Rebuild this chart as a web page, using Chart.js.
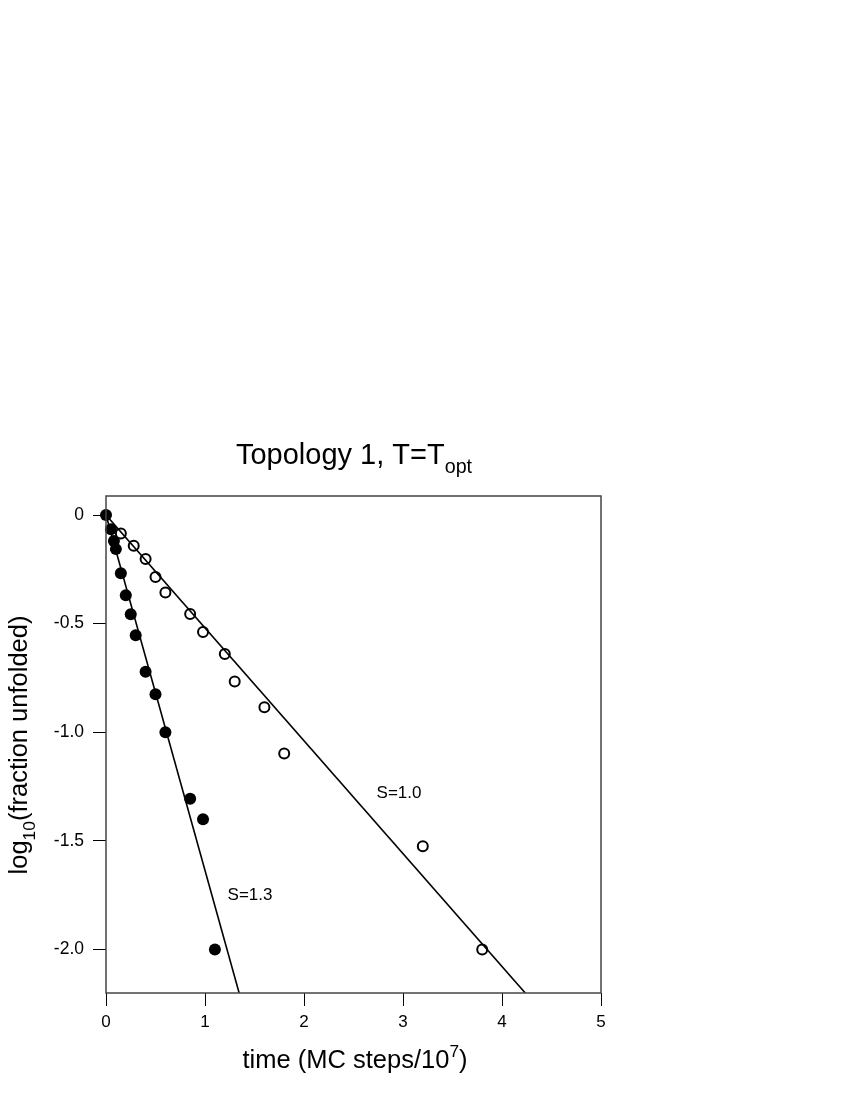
<!DOCTYPE html>
<html>
<head>
<meta charset="utf-8">
<script src="https://cdn.jsdelivr.net/npm/chart.js@4"></script>
<style>
  body { margin: 0; background: #fff; }
  canvas { display: block; }
</style>
</head>
<body>
<canvas id="myChart" width="850" height="1100"></canvas>
<script>
// data
var filledX = [0, 0.05, 0.08, 0.10, 0.15, 0.20, 0.25, 0.30, 0.40, 0.50, 0.60, 0.85, 0.98, 1.10];
var filledY = [0, -0.066, -0.12, -0.157, -0.268, -0.369, -0.457, -0.553, -0.721, -0.825, -1.0, -1.306, -1.40, -2.0];
var openX = [0.15, 0.28, 0.40, 0.50, 0.60, 0.85, 0.98, 1.20, 1.30, 1.60, 1.80, 3.20, 3.80];
var openY = [-0.085, -0.142, -0.203, -0.285, -0.357, -0.456, -0.538, -0.64, -0.766, -0.885, -1.098, -1.525, -2.0];
// fitted lines (S=1.0 and S=1.3)
var fitS10X = [0, 4.235];
var fitS10Y = [0, -2.2];
var fitS13X = [0, 1.345];
var fitS13Y = [0, -2.2];
var xTickValues = [0, 1, 2, 3, 4, 5];
var xTickLabels = ['0', '1', '2', '3', '4', '5'];
var yTickValues = [0, -0.5, -1.0, -1.5, -2.0];
var yTickLabels = ['0', '-0.5', '-1.0', '-1.5', '-2.0'];

var FONT = '"Liberation Sans", Arial, Helvetica, sans-serif';

function pts(xs, ys) {
  return xs.map(function (x, i) { return { x: x, y: ys[i] }; });
}

// draw text made of normal / sub / sup pieces
function richText(ctx, parts, size, x, y) {
  var total = 0;
  parts.forEach(function (p) {
    var s = p.mode ? size * 0.68 : size;
    ctx.font = s + 'px ' + FONT;
    p.w = ctx.measureText(p.t).width;
    total += p.w;
  });
  var cx = x - total / 2;
  parts.forEach(function (p) {
    var s = p.mode ? size * 0.68 : size;
    var dy = p.mode === 'sub' ? size * 0.3 : (p.mode === 'sup' ? -size * 0.45 : 0);
    ctx.font = s + 'px ' + FONT;
    ctx.fillText(p.t, cx, y + dy);
    cx += p.w;
  });
}

var extras = {
  id: 'extras',
  afterDraw: function (chart) {
    var ctx = chart.ctx;
    var a = chart.chartArea;
    var xs = chart.scales.x, ys = chart.scales.y;
    ctx.save();
    ctx.strokeStyle = '#444';
    ctx.lineWidth = 1.5;
    ctx.strokeRect(a.left, a.top, a.right - a.left, a.bottom - a.top);

    ctx.fillStyle = '#000';
    ctx.textAlign = 'left';
    ctx.textBaseline = 'alphabetic';
    richText(ctx, [{ t: 'Topology 1, T=T' }, { t: 'opt', mode: 'sub' }], 29, 354, 464);
    richText(ctx, [{ t: 'time (MC steps/10' }, { t: '7', mode: 'sup' }, { t: ')' }], 25.5, 355, 1068);

    ctx.save();
    ctx.translate(27, 745);
    ctx.rotate(-Math.PI / 2);
    richText(ctx, [{ t: 'log' }, { t: '10', mode: 'sub' }, { t: '(fraction unfolded)' }], 25.5, 0, 0);
    ctx.restore();

    ctx.font = '17px ' + FONT;
    ctx.textAlign = 'center';
    ctx.textBaseline = 'middle';
    ctx.fillText('S=1.0', xs.getPixelForValue(2.96), ys.getPixelForValue(-1.28));
    ctx.fillText('S=1.3', xs.getPixelForValue(1.455), ys.getPixelForValue(-1.75));
    ctx.restore();
  }
};

var ctx = document.getElementById('myChart').getContext('2d');
var myChart = new Chart(ctx, {
  type: 'scatter',
  data: {
    datasets: [{
      label: 'S=1.0 fit',
      data: pts(fitS10X, fitS10Y),
      showLine: true,
      borderColor: '#000',
      borderWidth: 1.6,
      pointRadius: 0
    }, {
      label: 'S=1.3 fit',
      data: pts(fitS13X, fitS13Y),
      showLine: true,
      borderColor: '#000',
      borderWidth: 1.6,
      pointRadius: 0
    }, {
      label: 'open',
      data: pts(openX, openY),
      pointRadius: 5,
      pointBackgroundColor: '#fff',
      pointBorderColor: '#000',
      pointBorderWidth: 2,
      clip: false
    }, {
      label: 'filled',
      data: pts(filledX, filledY),
      pointRadius: 6,
      pointBackgroundColor: '#000',
      pointBorderColor: '#000',
      pointBorderWidth: 0,
      clip: false
    }]
  },
  options: {
    responsive: false,
    animation: false,
    layout: { padding: { left: 0, right: 249, top: 496, bottom: 0 } },
    plugins: {
      legend: { display: false },
      tooltip: { enabled: false }
    },
    scales: {
      x: {
        type: 'linear',
        min: 0,
        max: 5,
        afterFit: function (s) { s.height = 107; },
        afterBuildTicks: function (s) { s.ticks = xTickValues.map(function (v) { return { value: v }; }); },
        border: { display: false },
        grid: { drawOnChartArea: false, tickLength: 13, color: '#000', tickColor: '#000' },
        ticks: {
          autoSkip: false,
          maxRotation: 0,
          padding: 6,
          color: '#000',
          font: { family: FONT, size: 17 },
          callback: function (v, i) { return xTickLabels[i]; }
        }
      },
      y: {
        type: 'linear',
        min: -2.2,
        max: 0.0875,
        afterFit: function (s) { s.width = 106; },
        afterBuildTicks: function (s) { s.ticks = yTickValues.map(function (v) { return { value: v }; }); },
        border: { display: false },
        grid: { drawOnChartArea: false, tickLength: 13, color: '#000', tickColor: '#000' },
        ticks: {
          autoSkip: false,
          padding: 9,
          color: '#000',
          font: { family: FONT, size: 17.5 },
          callback: function (v, i) { return yTickLabels[i]; }
        }
      }
    }
  },
  plugins: [extras]
});
</script>
</body>
</html>
